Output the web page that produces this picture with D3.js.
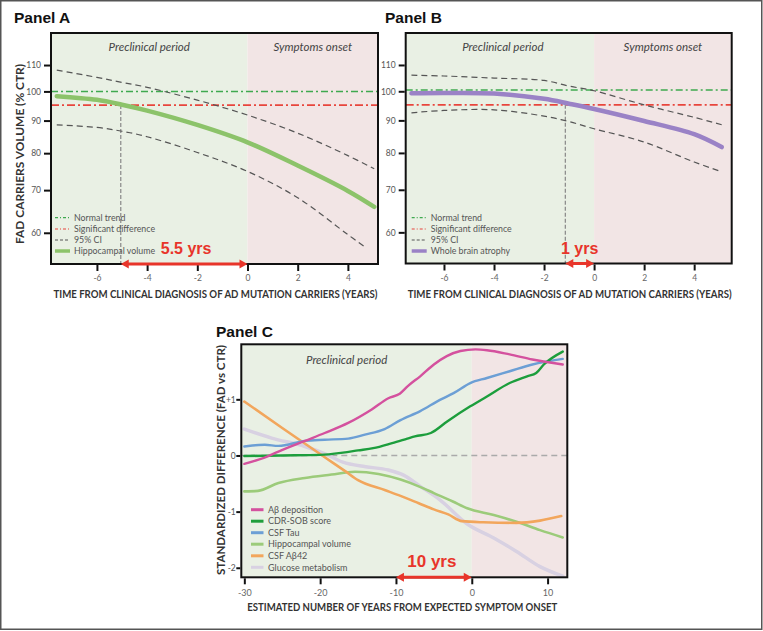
<!DOCTYPE html>
<html><head><meta charset="utf-8">
<script src="https://cdn.jsdelivr.net/npm/d3@7/dist/d3.min.js"></script>
<style>html,body{margin:0;padding:0;background:#fff;}svg{display:block;}</style>
</head><body>
<svg id="chart" width="763" height="631"></svg>
<script>
// ---------------- DATA ----------------
const volTicks = [60, 70, 80, 90, 100, 110];
const yearTicksAB = [-6, -4, -2, 0, 2, 4];
const yearTicksC = [-30, -20, -10, 0, 10];
const sdTicks = [1, 0, -1, -2];
const sdTickLabels = ["+1", "0", "-1", "-2"];

// Panel A: hippocampal volume (% CTR) vs years from diagnosis
const yearsA = [-7.6, -6, -5, -4, -2, 0, 2, 4, 5.05];
const hippocampalA = [98.3, 97.0, 95.3, 93.3, 88.6, 83.2, 76.5, 69.8, 65.9];
const upperCIA = [108.0, 105.2, 103.3, 101.5, 96.9, 91.8, 86.0, 79.3, 75.6];
const lowerYearsA = [-7.6, -6, -5, -4, -2, 0, 2, 4, 4.7];
const lowerCIA = [88.6, 87.8, 86.6, 84.9, 80.2, 74.9, 68.1, 59.6, 56.9];
const normalTrendA = 100;
const sigDiffA = 95.2;
const gapA = -5.05;

// Panel B: whole brain atrophy
const yearsB = [-7.3, -6, -4, -2, -1, 0, 2, 4, 5.1];
const wholeBrainB = [99.3, 99.4, 99.2, 97.3, 95.6, 93.8, 89.8, 85.6, 81.7];
const upperCIB = [106.0, 105.7, 104.9, 104.0, 101.9, 100.2, 95.2, 91.0, 88.6];
const lowerCIB = [92.5, 93.3, 93.5, 91.4, 89.6, 87.3, 83.2, 77.4, 74.7];
const normalTrendB = 100.5;
const sigDiffB = 95.2;
const gapB = -1.15;

const legendLabelsA = ["Normal trend", "Significant difference", "95% CI", "Hippocampal volume"];
const legendLabelsB = ["Normal trend", "Significant difference", "95% CI", "Whole brain atrophy"];

// Panel C: standardized difference vs estimated years from symptom onset
const abDepYears = [-30, -27, -25.5, -22, -19.4, -16.3, -13.2, -11, -9.5, -8.4, -6.8, -5, -3.3, -1.5, 0.5, 2, 5, 8, 12];
const abDeposition = [-0.15, -0.02, 0.07, 0.26, 0.4, 0.58, 0.82, 1.02, 1.1, 1.24, 1.41, 1.62, 1.77, 1.86, 1.89, 1.875, 1.8, 1.71, 1.62];
const cdrYears = [-30, -25, -20, -17, -15, -13, -10.5, -8.5, -7.5, -5.4, -3.2, -0.2, 2, 5, 7.3, 8.5, 9.5, 12];
const cdrSob = [-0.01, 0, 0.01, 0.05, 0.09, 0.13, 0.22, 0.3, 0.34, 0.4, 0.61, 0.875, 1.05, 1.29, 1.41, 1.47, 1.62, 1.85];
const tauYears = [-30, -27.3, -25.5, -22, -19.4, -16.3, -14.1, -11.5, -9.4, -6.8, -4.2, -2.4, -0.2, 2, 5, 8, 12];
const csfTau = [0.16, 0.19, 0.17, 0.26, 0.28, 0.3, 0.37, 0.47, 0.63, 0.79, 0.99, 1.11, 1.29, 1.38, 1.5, 1.62, 1.72];
const hippoYears = [-30, -28.2, -25.5, -22, -18.5, -15.4, -12.3, -9.4, -7, -5, -2.5, -0.6, 2.9, 5.9, 9, 12];
const hippocampalC = [-0.64, -0.63, -0.49, -0.4, -0.34, -0.29, -0.33, -0.43, -0.55, -0.67, -0.82, -0.94, -1.06, -1.18, -1.33, -1.46];
const ab42Years = [-30, -25, -19.2, -16.7, -15, -11.4, -9.4, -7, -5, -3.1, -1.3, 1.5, 5.9, 9, 11.8];
const csfAb42 = [0.96, 0.49, -0.05, -0.28, -0.44, -0.62, -0.72, -0.85, -0.96, -1.05, -1.17, -1.19, -1.2, -1.16, -1.08];
const glucoseYears = [-30, -26.4, -22, -19.2, -17, -14, -11, -9, -6.8, -4.2, -0.6, 2.9, 5.9, 9, 12];
const glucose = [0.47, 0.31, 0.16, 0.02, -0.12, -0.2, -0.26, -0.35, -0.55, -0.79, -1.22, -1.47, -1.71, -1.98, -2.15];
const legendLabelsC = ["A\u03b2 deposition", "CDR-SOB score", "CSF Tau", "Hippocampal volume", "CSF A\u03b242", "Glucose metabolism"];
const gapC = -10;

// ---------------- STYLE ----------------
const FONT = "Lato, 'Open Sans', 'DejaVu Sans', sans-serif";
const GREEN_BG = "#e9f0e4";
const PINK_BG = "#f2e5e5";
const NORMAL_C = "#3fa94f";
const SIG_C = "#e8453d";
const CI_C = "#555";
const ARROW_C = "#e8352a";

const svg = d3.select("#chart");
const defs = svg.append("defs");
const blur = defs.append("filter").attr("id", "soft").attr("x", "-5%").attr("y", "-20%").attr("width", "110%").attr("height", "140%");
blur.append("feGaussianBlur").attr("stdDeviation", 0.7);

svg.append("rect").attr("x", 0.75).attr("y", 0.75).attr("width", 761).attr("height", 628.5)
  .attr("fill", "#fff").attr("stroke", "#555").attr("stroke-width", 1.5);

function title(txt, x, y) {
  svg.append("text").attr("x", x).attr("y", y).text(txt)
    .attr("font-family", "'Liberation Sans', Arial, sans-serif").attr("font-weight", "bold")
    .attr("font-size", 15.5).attr("fill", "#111");
}

function drawArrow(g, x1, x2, y) {
  const h = 8, w = 4.5;
  g.append("line").attr("x1", x1 + h - 1).attr("x2", x2 - h + 1).attr("y1", y).attr("y2", y)
    .attr("stroke", ARROW_C).attr("stroke-width", 3);
  g.append("path").attr("d", `M${x1},${y}L${x1 + h},${y - w}L${x1 + h},${y + w}Z`).attr("fill", ARROW_C);
  g.append("path").attr("d", `M${x2},${y}L${x2 - h},${y - w}L${x2 - h},${y + w}Z`).attr("fill", ARROW_C);
}

function styleAxis(ax, fontSize, color) {
  ax.select(".domain").remove();
  ax.selectAll(".tick line").attr("stroke", "#111").attr("stroke-width", 2);
  ax.selectAll(".tick text").attr("font-family", FONT).attr("font-size", fontSize).attr("fill", color);
}

function volPanel(cfg) {
  const g = svg.append("g");
  const x = d3.scaleLinear().domain(cfg.xDomain).range([cfg.left, cfg.right]);
  const y = d3.scaleLog().domain([53.6, 123.5]).range([cfg.bottom, cfg.top]);
  const x0 = x(0);
  g.append("rect").attr("x", cfg.left).attr("y", cfg.top).attr("width", x0 - cfg.left).attr("height", cfg.bottom - cfg.top).attr("fill", GREEN_BG);
  g.append("rect").attr("x", x0).attr("y", cfg.top).attr("width", cfg.right - x0).attr("height", cfg.bottom - cfg.top).attr("fill", PINK_BG);

  g.append("text").attr("x", (cfg.left + x0) / 2 + cfg.preOff).attr("y", cfg.top + 18).attr("text-anchor", "middle")
    .attr("font-family", FONT).attr("font-style", "italic").attr("font-size", 11.5).attr("fill", "#444").text("Preclinical period");
  g.append("text").attr("x", (x0 + cfg.right) / 2).attr("y", cfg.top + 18).attr("text-anchor", "middle")
    .attr("font-family", FONT).attr("font-style", "italic").attr("font-size", 11.5).attr("fill", "#444").text("Symptoms onset");

  g.append("line").attr("x1", cfg.left).attr("x2", cfg.right).attr("y1", y(cfg.normal)).attr("y2", y(cfg.normal))
    .attr("stroke", NORMAL_C).attr("stroke-width", 1.5).attr("stroke-dasharray", "7,3,2,3");
  g.append("line").attr("x1", cfg.left).attr("x2", cfg.right).attr("y1", y(cfg.sig)).attr("y2", y(cfg.sig))
    .attr("stroke", SIG_C).attr("stroke-width", 1.8).attr("stroke-dasharray", "8,3,2,3");
  g.append("line").attr("x1", x(cfg.gap)).attr("x2", x(cfg.gap)).attr("y1", y(cfg.sig)).attr("y2", cfg.bottom)
    .attr("stroke", "#888").attr("stroke-width", 1.2).attr("stroke-dasharray", "4,2");

  const line = d3.line().x(d => x(d[0])).y(d => y(d[1])).curve(d3.curveCatmullRom.alpha(0.5));
  g.append("path").attr("d", line(d3.zip(cfg.years, cfg.upper))).attr("fill", "none")
    .attr("stroke", CI_C).attr("stroke-width", 1.2).attr("stroke-dasharray", "6,4");
  g.append("path").attr("d", line(d3.zip(cfg.lowerYears, cfg.lower))).attr("fill", "none")
    .attr("stroke", CI_C).attr("stroke-width", 1.2).attr("stroke-dasharray", "6,4");
  g.append("path").attr("d", line(d3.zip(cfg.years, cfg.main))).attr("fill", "none")
    .attr("stroke", cfg.color).attr("stroke-width", 4.5).attr("stroke-linecap", "round").attr("filter", "url(#soft)");

  g.append("rect").attr("x", cfg.left).attr("y", cfg.top).attr("width", cfg.right - cfg.left).attr("height", cfg.bottom - cfg.top)
    .attr("fill", "none").attr("stroke", "#111").attr("stroke-width", 2);

  const ya = g.append("g").attr("transform", `translate(${cfg.left - 1},0)`)
    .call(d3.axisLeft(y).tickValues(volTicks).tickSize(6).tickPadding(3).tickFormat(d => String(d)));
  styleAxis(ya, 8.5, "#555");
  const xa = g.append("g").attr("transform", `translate(0,${cfg.bottom + 1})`)
    .call(d3.axisBottom(x).tickValues(yearTicksAB).tickSize(6).tickPadding(4).tickFormat(d => String(d)));
  styleAxis(xa, 8.5, "#666");

  // legend
  const lx = cfg.left + cfg.legOff;
  const rows = [217.7, 229, 240, 251];
  const styles = [
    {c: NORMAL_C, w: 1.2, da: "3,2,1,2"},
    {c: SIG_C, w: 1.2, da: "3,2,1,2"},
    {c: CI_C, w: 1.2, da: "3,2"},
    {c: cfg.color, w: 3.5, da: null}
  ];
  cfg.legend.forEach((t, i) => {
    const s = styles[i];
    const l = g.append("line").attr("x1", lx).attr("x2", lx + 15).attr("y1", rows[i]).attr("y2", rows[i])
      .attr("stroke", s.c).attr("stroke-width", s.w);
    if (s.da) l.attr("stroke-dasharray", s.da);
    g.append("text").attr("x", lx + 19).attr("y", rows[i] + 3).text(t)
      .attr("font-family", FONT).attr("font-size", 8.8).attr("fill", "#555");
  });

  drawArrow(g, x(cfg.gap), x0, cfg.bottom);
  g.append("text").attr("x", (x(cfg.gap) + x0) / 2 + cfg.gapTxtOff).attr("y", cfg.bottom - 10).attr("text-anchor", "middle")
    .attr("font-family", "'Liberation Sans', Arial, sans-serif").attr("font-weight", "bold").attr("font-size", 16)
    .attr("fill", ARROW_C).text(cfg.gapLabel);

  g.append("text").attr("x", (cfg.left + cfg.right) / 2 + 1).attr("y", cfg.bottom + 34).attr("text-anchor", "middle")
    .attr("font-family", FONT).attr("font-weight", "bold").attr("font-size", 10.5).attr("fill", "#333")
    .attr("textLength", 324).attr("lengthAdjust", "spacingAndGlyphs")
    .text("TIME FROM CLINICAL DIAGNOSIS OF AD MUTATION CARRIERS (YEARS)");
  return {x, y};
}

title("Panel A", 14, 23);
title("Panel B", 385, 23);
title("Panel C", 216, 336.5);

volPanel({left: 51, right: 378, top: 33, bottom: 264, xDomain: [-7.83, 5.2],
  years: yearsA, main: hippocampalA, upper: upperCIA, lowerYears: lowerYearsA, lower: lowerCIA,
  normal: normalTrendA, sig: sigDiffA, gap: gapA, color: "#8cc36a", legend: legendLabelsA,
  gapLabel: "5.5 yrs", preOff: 0, legOff: 4, gapTxtOff: 2});
volPanel({left: 405.7, right: 731.7, top: 33, bottom: 263.5, xDomain: [-7.53, 5.5],
  years: yearsB, main: wholeBrainB, upper: upperCIB, lowerYears: yearsB, lower: lowerCIB,
  normal: normalTrendB, sig: sigDiffB, gap: gapB, color: "#9a82c6", legend: legendLabelsB,
  gapLabel: "1 yrs", preOff: 3, legOff: 6, gapTxtOff: 0});

// Y title for panel A
svg.append("text").attr("transform", "translate(24,154) rotate(-90)").attr("text-anchor", "middle")
  .attr("font-family", FONT).attr("font-weight", "bold").attr("font-size", 11).attr("fill", "#333")
  .attr("textLength", 180).attr("lengthAdjust", "spacingAndGlyphs").text("FAD CARRIERS VOLUME (% CTR)");

// ---------------- PANEL C ----------------
(function () {
  const left = 241.3, right = 567.3, top = 344.3, bottom = 577.3;
  const g = svg.append("g");
  const x = d3.scaleLinear().domain([-30.4, 12.6]).range([left, right]);
  const y = d3.scaleLinear().domain([-2.17, 1.98]).range([bottom, top]);
  const x0 = x(0);
  g.append("rect").attr("x", left).attr("y", top).attr("width", x0 - left).attr("height", bottom - top).attr("fill", GREEN_BG);
  g.append("rect").attr("x", x0).attr("y", top).attr("width", right - x0).attr("height", bottom - top).attr("fill", PINK_BG);
  g.append("text").attr("x", x(-16.5)).attr("y", top + 20).attr("text-anchor", "middle")
    .attr("font-family", FONT).attr("font-style", "italic").attr("font-size", 11.5).attr("fill", "#444").text("Preclinical period");

  g.append("line").attr("x1", left).attr("x2", right).attr("y1", y(0)).attr("y2", y(0))
    .attr("stroke", "#aaa").attr("stroke-width", 1.6).attr("stroke-dasharray", "6,4");

  const line = d3.line().x(d => x(d[0])).y(d => y(d[1])).curve(d3.curveMonotoneX);
  const series = [
    {xs: glucoseYears, ys: glucose, c: "#d8d1e2", w: 3.5},
    {xs: hippoYears, ys: hippocampalC, c: "#9ccb7a", w: 2.6},
    {xs: ab42Years, ys: csfAb42, c: "#f2a65c", w: 2.6},
    {xs: tauYears, ys: csfTau, c: "#6c9fd5", w: 2.4},
    {xs: cdrYears, ys: cdrSob, c: "#1f9e3c", w: 2.4},
    {xs: abDepYears, ys: abDeposition, c: "#d4519e", w: 2.4}
  ];
  series.forEach(s => {
    g.append("path").attr("d", line(d3.zip(s.xs, s.ys))).attr("fill", "none")
      .attr("stroke", s.c).attr("stroke-width", s.w).attr("stroke-linecap", "round").attr("filter", "url(#soft)");
  });

  g.append("rect").attr("x", left).attr("y", top).attr("width", right - left).attr("height", bottom - top)
    .attr("fill", "none").attr("stroke", "#111").attr("stroke-width", 2);

  const ya = g.append("g").attr("transform", `translate(${left - 1},0)`)
    .call(d3.axisLeft(y).tickValues(sdTicks).tickSize(4).tickPadding(0.5).tickFormat((d, i) => sdTickLabels[i]));
  styleAxis(ya, 8.5, "#555");
  const xa = g.append("g").attr("transform", `translate(0,${bottom + 1})`)
    .call(d3.axisBottom(x).tickValues(yearTicksC).tickSize(6).tickPadding(5).tickFormat(d => String(d)));
  styleAxis(xa, 9, "#666");

  const legendColors = ["#d4519e", "#1f9e3c", "#6c9fd5", "#9ccb7a", "#f2a65c", "#d8d1e2"];
  const rows = [509.7, 521.2, 532.7, 544.2, 555.8, 567.3];
  legendLabelsC.forEach((t, i) => {
    g.append("line").attr("x1", 251).attr("x2", 263.5).attr("y1", rows[i]).attr("y2", rows[i])
      .attr("stroke", legendColors[i]).attr("stroke-width", 3);
    g.append("text").attr("x", 268).attr("y", rows[i] + 3.2).text(t)
      .attr("font-family", FONT).attr("font-size", 9).attr("fill", "#555");
  });

  drawArrow(g, x(gapC), x0, bottom);
  g.append("text").attr("x", (x(gapC) + x0) / 2 - 2).attr("y", bottom - 10.5).attr("text-anchor", "middle")
    .attr("font-family", "'Liberation Sans', Arial, sans-serif").attr("font-weight", "bold").attr("font-size", 17)
    .attr("fill", ARROW_C).text("10 yrs");

  g.append("text").attr("x", (left + right) / 2 - 2).attr("y", 610.5).attr("text-anchor", "middle")
    .attr("font-family", FONT).attr("font-weight", "bold").attr("font-size", 10.5).attr("fill", "#333")
    .attr("textLength", 310).attr("lengthAdjust", "spacingAndGlyphs")
    .text("ESTIMATED NUMBER OF YEARS FROM EXPECTED SYMPTOM ONSET");

  svg.append("text").attr("transform", "translate(225,460) rotate(-90)").attr("text-anchor", "middle")
    .attr("font-family", FONT).attr("font-weight", "bold").attr("font-size", 11).attr("fill", "#333")
    .attr("textLength", 230).attr("lengthAdjust", "spacingAndGlyphs").text("STANDARDIZED DIFFERENCE (FAD vs CTR)");
})();
</script>
</body></html>
